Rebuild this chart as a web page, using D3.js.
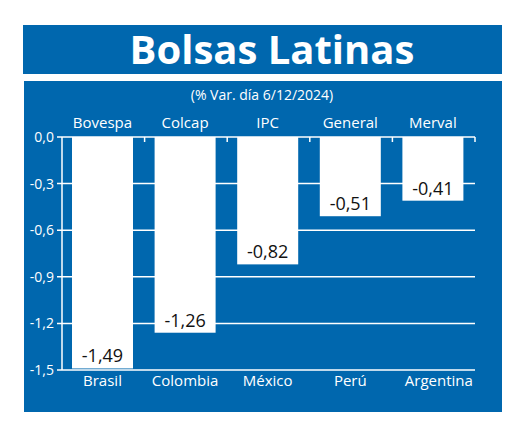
<!DOCTYPE html><html><head><meta charset="utf-8"><script src="https://cdn.jsdelivr.net/npm/d3@7"></script>
<style>body{margin:0;background:#fff}text{font-family:"Open Sans","Noto Sans",sans-serif}</style></head><body>
<svg id="c" width="520" height="431"></svg>
<script>
const indices=["Bovespa","Colcap","IPC","General","Merval"];
const countries=["Brasil","Colombia","México","Perú","Argentina"];
const values=[-1.49,-1.26,-0.82,-0.51,-0.41];
const yTicks=[0,-0.3,-0.6,-0.9,-1.2,-1.5];
const blue="#0067ae";
const svg=d3.select("#c");
svg.append("rect").attr("x",23).attr("y",25).attr("width",479).attr("height",49).attr("fill",blue);
svg.append("text").attr("x",272).attr("y",64).attr("text-anchor","middle").attr("fill","#fff").attr("font-size",40).attr("font-weight","bold").text("Bolsas Latinas");
svg.append("rect").attr("x",24).attr("y",81).attr("width",478).attr("height",331).attr("fill",blue);
svg.append("text").attr("x",262).attr("y",100).attr("text-anchor","middle").attr("fill","#fff").attr("font-size",14).text("(% Var. día 6/12/2024)");
const x=d3.scaleBand().domain(countries).range([62,475]);
const y=d3.scaleLinear().domain([0,-1.5]).range([137,370]);
const g=svg.append("g");
yTicks.forEach(t=>{g.append("line").attr("x1",57).attr("x2",475).attr("y1",y(t)).attr("y2",y(t)).attr("stroke","#fff").attr("stroke-width",1.5);
g.append("text").attr("x",54).attr("y",y(t)+5).attr("text-anchor","end").attr("fill","#fff").attr("font-size",14).text(d3.format(".1f")(t).replace(".",",").replace("−","-"));});
g.append("line").attr("x1",62).attr("x2",62).attr("y1",137).attr("y2",370).attr("stroke","#fff").attr("stroke-width",1.5);
countries.forEach(c=>{const xx=x(c)+x.bandwidth();g.append("line").attr("x1",xx).attr("x2",xx).attr("y1",137).attr("y2",142).attr("stroke","#fff").attr("stroke-width",1.5);});
countries.forEach((c,i)=>{
 const x0=x(c)+10,w=61;
 g.append("rect").attr("x",x0).attr("y",y(0)).attr("width",w).attr("height",y(values[i])-y(0)).attr("fill","#fff");
 g.append("text").attr("x",x0+w/2).attr("y",y(values[i])-6).attr("text-anchor","middle").attr("fill","#111").attr("font-size",18).text(d3.format(".2f")(values[i]).replace(".",",").replace("−","-"));
 g.append("text").attr("x",x0+w/2).attr("y",128).attr("text-anchor","middle").attr("fill","#fff").attr("font-size",15).text(indices[i]);
 g.append("text").attr("x",x0+w/2+(i==4?6:0)).attr("y",386).attr("text-anchor","middle").attr("fill","#fff").attr("font-size",15).text(c);
});
</script></body></html>
